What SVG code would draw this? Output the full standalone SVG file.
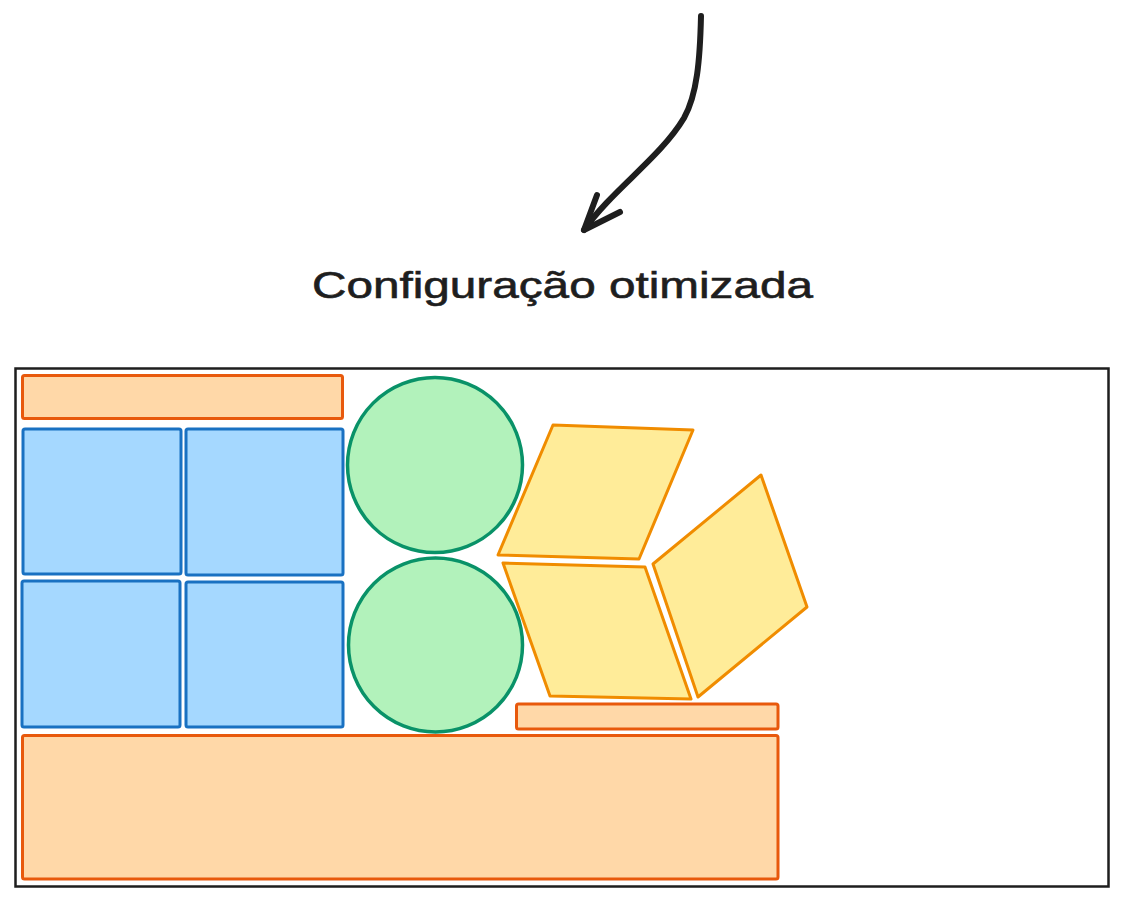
<svg xmlns="http://www.w3.org/2000/svg" width="1125" height="902" viewBox="0 0 1125 902">
<style>
.orange{fill:#ffd8a8;stroke:#e8590c;stroke-width:3;stroke-linejoin:round}
.blue{fill:#a5d8ff;stroke:#1971c2;stroke-width:3;stroke-linejoin:round}
.green{fill:#b2f2bb;stroke:#099268;stroke-width:3.5}
.yellow{fill:#ffec99;stroke:#f08c00;stroke-width:3;stroke-linejoin:round}
.frame{fill:none;stroke:#1e1e1e;stroke-width:2.5}
.arrow{fill:none;stroke:#1e1e1e;stroke-width:6;stroke-linecap:round;stroke-linejoin:round}
.label{font-family:"Liberation Sans",Arial,sans-serif;font-size:36px;fill:#1e1e1e;stroke:#1e1e1e;stroke-width:0.6}
</style>
<rect width="1125" height="902" fill="#ffffff"/>
<g id="frame"><rect class="frame" x="15.5" y="368.5" width="1093" height="518"/></g>
<g id="bar-top"><rect class="orange" x="22.5" y="375.5" width="320" height="43" rx="2"/></g>
<g id="sq1"><rect class="blue" x="23" y="429" width="158" height="145" rx="2"/></g>
<g id="sq2"><rect class="blue" x="186" y="429" width="157" height="146" rx="2"/></g>
<g id="sq3"><rect class="blue" x="22" y="581" width="158" height="146" rx="2"/></g>
<g id="sq4"><rect class="blue" x="186" y="582" width="157" height="145" rx="2"/></g>
<g id="circle1"><circle class="green" cx="435" cy="465" r="87.5"/></g>
<g id="circle2"><circle class="green" cx="435.5" cy="645" r="87"/></g>
<g id="para1"><polygon class="yellow" points="553,425 693,430 639,559 498,555"/></g>
<g id="para2"><polygon class="yellow" points="503,563 645,567 691,699 550,696"/></g>
<g id="para3"><polygon class="yellow" points="761,475 807,607 698,697 653,564"/></g>
<g id="bar-small"><rect class="orange" x="516.5" y="704" width="261.5" height="25" rx="2"/></g>
<g id="bar-bottom"><rect class="orange" x="22.5" y="735.5" width="755.5" height="143.5" rx="2"/></g>
<g id="title"><text class="label" x="312" y="298" textLength="501" lengthAdjust="spacingAndGlyphs">Configuração otimizada</text></g>
<g id="connectors">
<path class="arrow" d="M701 16 C700 60 697 95 684 118 C660 158 612 190 584 230"/>
<path class="arrow" d="M597 195 L584 230 L620 212"/>
</g>
</svg>
